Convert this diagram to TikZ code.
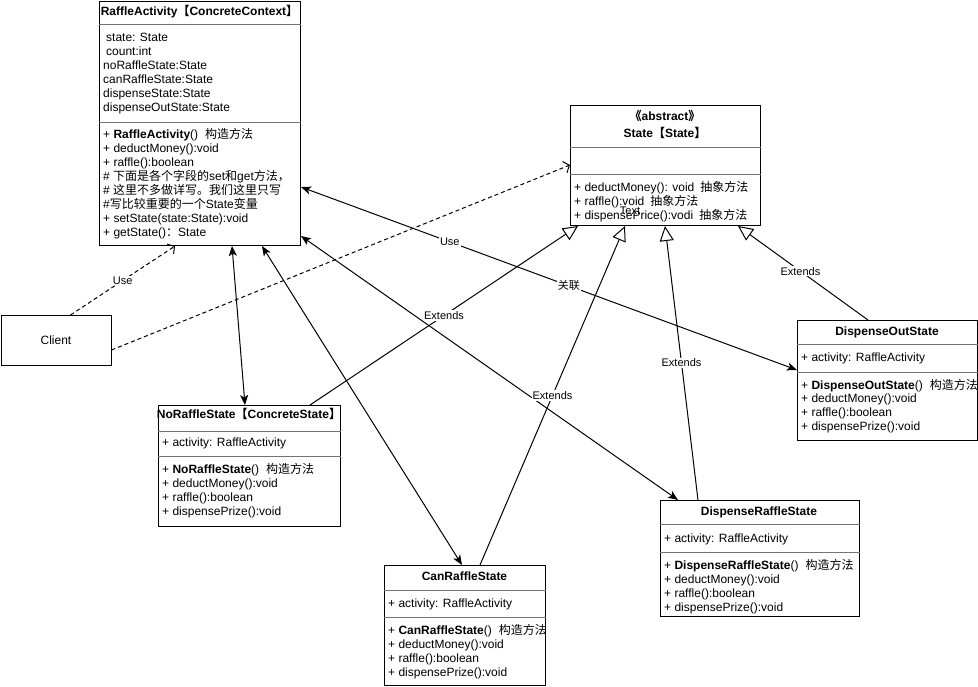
\documentclass[tikz,border=0pt]{standalone}
\usepackage{fontspec}
\setmainfont{Liberation Sans}
\newfontfamily\zhf{Noto Sans CJK SC}
\newcommand\zh[1]{{\zhf #1}}
\usetikzlibrary{arrows.meta}

\tikzset{
  umlbox/.style={draw, line width=1pt, inner sep=0pt, anchor=north west, fill=white,
    font=\fontsize{12}{14}\selectfont},
  row/.style={anchor=west, inner sep=0pt, font=\fontsize{12}{14}\selectfont,
    text height=11.8pt, text depth=2.6pt},
  rowc/.style={row, anchor=center},
  sep/.style={line width=0.8pt, draw=black!55},
  elabel/.style={fill=white, inner sep=1pt, font=\fontsize{11}{13}\selectfont},
  assoc/.style={line width=1pt,
    {Stealth[length=10pt,width=8pt,inset=2.5pt]}-{Stealth[length=10pt,width=8pt,inset=2.5pt]}},
  extends/.style={line width=1pt, -{Triangle[length=15pt,width=14pt,fill=white]}},
  uses/.style={line width=1pt, dash pattern=on 4pt off 3pt,
    -{Straight Barb[length=5pt,width=12pt]}},
}

\begin{document}
\begin{tikzpicture}[x=1pt,y=-1pt]
\useasboundingbox (0,0) rectangle (978,686);

% ---------- class boxes ----------
\node[umlbox, minimum width=201pt, minimum height=244pt] (ra)   at (99,1) {};
\node[umlbox, minimum width=190pt, minimum height=120pt] (st)   at (570,105) {};
\node[umlbox, minimum width=110pt, minimum height=50pt]  (cl)   at (0.5,315) {Client};
\node[umlbox, minimum width=182pt, minimum height=121pt] (no)   at (158,405) {};
\node[umlbox, minimum width=161pt, minimum height=120pt] (can)  at (384,565) {};
\node[umlbox, minimum width=199pt, minimum height=116pt] (dr)   at (660,500) {};
\node[umlbox, minimum width=180pt, minimum height=120pt] (dout) at (797,320) {};

% compartment separators
\foreach \b/\a/\c in {ra/23/121, st/42/69, no/26/51, can/25/52, dr/24/52, dout/24/52}{
  \draw[sep] ([yshift=-\a pt]\b.north west) -- ([yshift=-\a pt]\b.north east);
  \draw[sep] ([yshift=-\c pt]\b.north west) -- ([yshift=-\c pt]\b.north east);
}

% ---------- RaffleActivity ----------
\node[rowc] (raT) at (199.5,11) {\textbf{RaffleActivity\zh{【}ConcreteContext\zh{】}}};
\node[row] (ra1) at (106,37) {state: State};
\node[row] (ra2) at (106,51) {count:int};
\node[row] (ra3) at (103,65) {noRaffleState:State};
\node[row] (ra4) at (103,79) {canRaffleState:State};
\node[row] (ra5) at (103,93) {dispenseState:State};
\node[row] (ra6) at (103,107) {dispenseOutState:State};
\node[row] (ra7) at (103,134) {+ \textbf{RaffleActivity}()\hspace{7pt}\zh{构造方法}};
\node[row] (ra8) at (103,148) {+ deductMoney():void};
\node[row] (ra9) at (103,162) {+ raffle():boolean};
\node[row] (ra10) at (103,176) {\# \zh{下面是各个字段的}set\zh{和}get\zh{方法，}};
\node[row] (ra11) at (103,190) {\# \zh{这里不多做详写。我们这里只写}};
\node[row] (ra12) at (103,204) {\#\zh{写比较重要的一个}State\zh{变量}};
\node[row] (ra13) at (103,218) {+ setState(state:State):void};
\node[row] (ra14) at (103,232) {+ getState()\zh{：}State};

% ---------- State ----------
\node[rowc] (stS) at (665,116) {\textbf{\zh{《}abstract\zh{》}}};
\node[rowc] (stT) at (665,133) {\textbf{State\zh{【}State\zh{】}}};
\node[row] (st1) at (574,187) {+ deductMoney(): void\hspace{6pt}\zh{抽象方法}};
\node[row] (st2) at (574,201) {+ raffle():void\hspace{6pt}\zh{抽象方法}};
\node[row] (st3) at (574,215) {+ dispensePrice():vodi\hspace{6pt}\zh{抽象方法}};
\node[inner sep=0pt, font=\fontsize{11}{13}\selectfont] (stX) at (630,211) {Text};

% ---------- NoRaffleState ----------
\node[rowc] (noT) at (249,414) {\textbf{NoRaffleState\zh{【}ConcreteState\zh{】}}};
\node[row] (no1) at (162,442) {+ activity: RaffleActivity};
\node[row] (no2) at (162,469) {+ \textbf{NoRaffleState}()\hspace{7pt}\zh{构造方法}};
\node[row] (no3) at (162,483) {+ deductMoney():void};
\node[row] (no4) at (162,497) {+ raffle():boolean};
\node[row] (no5) at (162,511) {+ dispensePrize():void};

% ---------- CanRaffleState ----------
\begin{scope}
\clip (384,565) rectangle (545,685);
\node[rowc] (canT) at (464.5,576) {\textbf{CanRaffleState}};
\node[row] (can1) at (388,603) {+ activity: RaffleActivity};
\node[row] (can2) at (388,630) {+ \textbf{CanRaffleState}()\hspace{7pt}\zh{构造方法}};
\node[row] (can3) at (388,644) {+ deductMoney():void};
\node[row] (can4) at (388,658) {+ raffle():boolean};
\node[row] (can5) at (388,672) {+ dispensePrize():void};
\end{scope}

% ---------- DispenseRaffleState ----------
\node[rowc] (drT) at (759,511) {\textbf{DispenseRaffleState}};
\node[row] (dr1) at (664,538) {+ activity: RaffleActivity};
\node[row] (dr2) at (664,565) {+ \textbf{DispenseRaffleState}()\hspace{7pt}\zh{构造方法}};
\node[row] (dr3) at (664,579) {+ deductMoney():void};
\node[row] (dr4) at (664,593) {+ raffle():boolean};
\node[row] (dr5) at (664,607) {+ dispensePrize():void};

% ---------- DispenseOutState ----------
\node[rowc] (doT) at (887,331) {\textbf{DispenseOutState}};
\node[row] (do1) at (801,357) {+ activity: RaffleActivity};
\node[row] (do2) at (801,385) {+ \textbf{DispenseOutState}()\hspace{7pt}\zh{构造方法}};
\node[row] (do3) at (801,398) {+ deductMoney():void};
\node[row] (do4) at (801,412) {+ raffle():boolean};
\node[row] (do5) at (801,426) {+ dispensePrize():void};

% ---------- associations between context and states ----------
\draw[assoc] ([xshift=133pt]ra.south west) -- ([xshift=87pt]no.north west);
\draw[assoc] ([xshift=163pt]ra.south west) -- ([xshift=78pt]can.north west);
\draw[assoc] ([yshift=10pt]ra.south east) -- ([xshift=18pt]dr.north west);
\draw[assoc] ([yshift=-186pt]ra.north east) -- ([yshift=-50pt]dout.north west)
  node[elabel, pos=0.30] (lUse2) {Use}
  node[elabel, pos=0.54] (lRel) {\zh{关联}};

% ---------- generalisation ----------
\draw[extends] ([xshift=152pt]no.north west) -- ([xshift=8pt]st.south west)
  node[elabel, pos=0.5] (lE1) {Extends};
\draw[extends] ([xshift=96pt]can.north west) -- ([xshift=55pt]st.south west)
  node[elabel, pos=0.5] (lE2) {Extends};
\draw[extends] ([xshift=38pt]dr.north west) -- ([xshift=95pt]st.south west)
  node[elabel, pos=0.5] (lE3) {Extends};
\draw[extends] ([xshift=71pt]dout.north west) -- ([xshift=168pt]st.south west)
  node[elabel, pos=0.52] (lE4) {Extends};

% ---------- client dependencies ----------
\draw[uses] ([xshift=70pt]cl.north west) -- ([xshift=76pt]ra.south west)
  node[elabel, pos=0.5] (lUse1) {Use};
\draw[uses] ([yshift=-35pt]cl.north east) -- ([yshift=-60pt]st.north west);

\end{tikzpicture}
\end{document}
